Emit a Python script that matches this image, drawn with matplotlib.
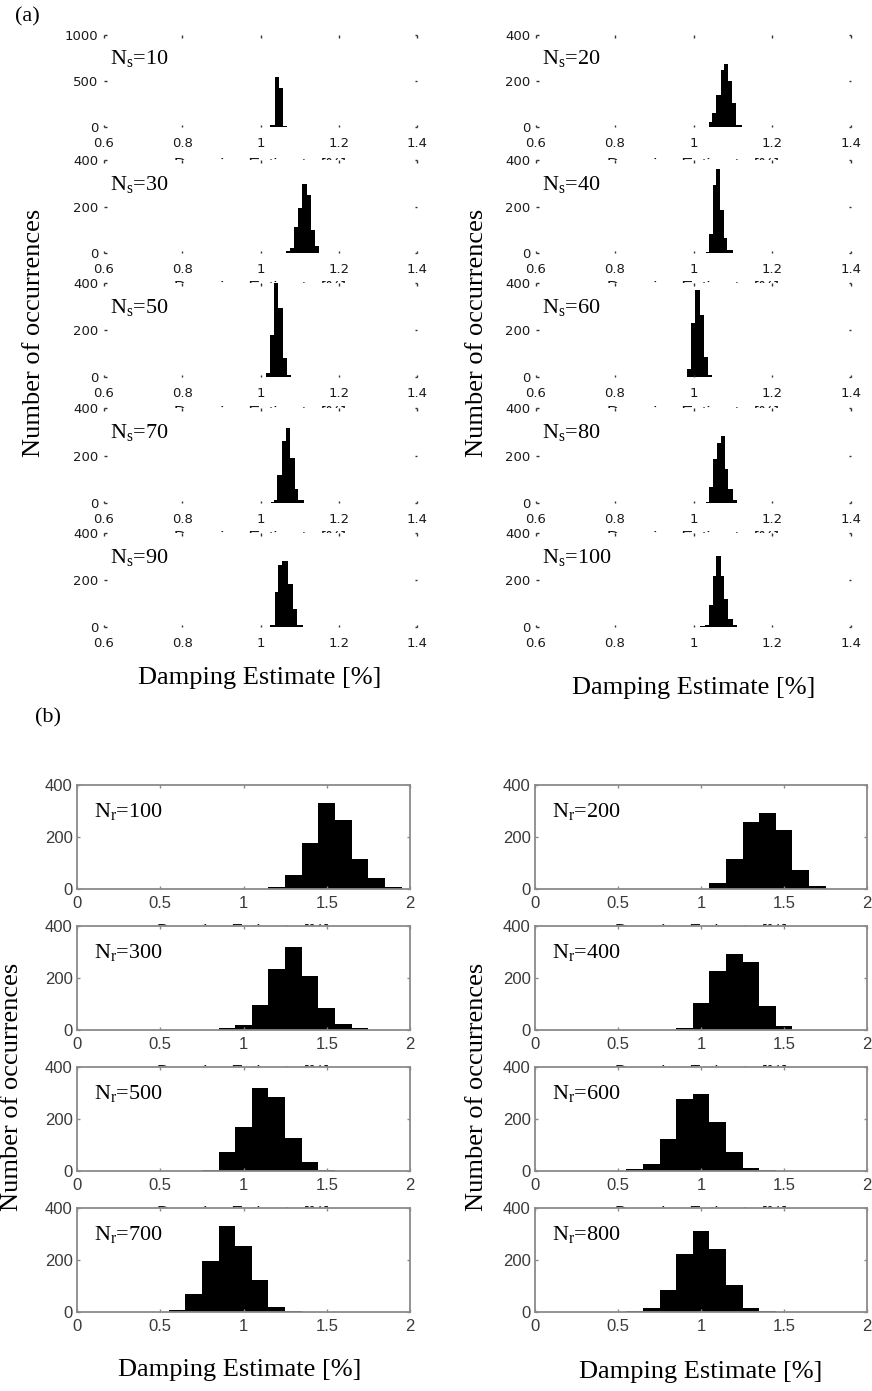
import numpy as np
import matplotlib
matplotlib.use("Agg")
import matplotlib.pyplot as plt

# ---------------- data: panel (a), N_s study ----------------
ns10_edges = [1.024, 1.038, 1.047, 1.058, 1.068]
ns10_counts = [25, 545, 420, 15]
ns20_edges = [1.039, 1.047, 1.058, 1.069, 1.077, 1.087, 1.098, 1.109, 1.124]
ns20_counts = [22, 60, 140, 250, 275, 200, 105, 10]
ns30_edges = [1.064, 1.075, 1.085, 1.097, 1.107, 1.118, 1.129, 1.139, 1.150]
ns30_counts = [7, 21, 111, 193, 295, 250, 100, 29]
ns40_edges = [1.031, 1.039, 1.050, 1.058, 1.067, 1.077, 1.086, 1.101]
ns40_counts = [3, 83, 293, 360, 183, 64, 11]
ns50_edges = [1.013, 1.024, 1.034, 1.044, 1.057, 1.067, 1.077]
ns50_counts = [17, 180, 400, 294, 80, 10]
ns60_edges = [0.984, 0.994, 1.005, 1.016, 1.026, 1.037, 1.047]
ns60_counts = [36, 229, 371, 264, 86, 7]
ns70_edges = [1.027, 1.034, 1.043, 1.056, 1.064, 1.075, 1.087, 1.097, 1.111]
ns70_counts = [4, 11, 119, 261, 314, 190, 61, 11]
ns80_edges = [1.031, 1.039, 1.050, 1.060, 1.070, 1.079, 1.087, 1.101, 1.111]
ns80_counts = [4, 66, 186, 251, 283, 143, 57, 11]
ns90_edges = [1.024, 1.038, 1.044, 1.055, 1.070, 1.084, 1.094, 1.109]
ns90_counts = [7, 150, 265, 282, 185, 75, 7]
ns100_edges = [1.016, 1.028, 1.039, 1.050, 1.058, 1.069, 1.077, 1.087, 1.101, 1.111]
ns100_counts = [3, 8, 95, 215, 300, 215, 119, 34, 10]

ns_values = [10, 20, 30, 40, 50, 60, 70, 80, 90, 100]
a_xticks = [0.6, 0.8, 1.0, 1.2, 1.4]
a_xticklabels = ["0.6", "0.8", "1", "1.2", "1.4"]
a_yticks_first = [0, 500, 1000]
a_yticks = [0, 200, 400]

# ---------------- data: panel (b), N_r study ----------------
nr100_edges = [1.15, 1.25, 1.35, 1.45, 1.55, 1.65, 1.75, 1.85, 1.95]
nr100_counts = [9, 54, 176, 330, 265, 114, 41, 9]
nr200_edges = [1.05, 1.15, 1.25, 1.35, 1.45, 1.55, 1.65, 1.75]
nr200_counts = [24, 114, 259, 291, 227, 73, 13]
nr300_edges = [0.85, 0.95, 1.05, 1.15, 1.25, 1.35, 1.45, 1.55, 1.65, 1.75]
nr300_counts = [6, 21, 96, 236, 319, 207, 86, 22, 6]
nr400_edges = [0.85, 0.95, 1.05, 1.15, 1.25, 1.35, 1.45, 1.55]
nr400_counts = [6, 102, 227, 291, 260, 93, 17]
nr500_edges = [0.75, 0.85, 0.95, 1.05, 1.15, 1.25, 1.35, 1.45, 1.55]
nr500_counts = [5, 73, 168, 319, 285, 126, 35, 4]
nr600_edges = [0.55, 0.65, 0.75, 0.85, 0.95, 1.05, 1.15, 1.25, 1.35, 1.45]
nr600_counts = [6, 26, 122, 277, 297, 190, 72, 10, 3]
nr700_edges = [0.55, 0.65, 0.75, 0.85, 0.95, 1.05, 1.15, 1.25, 1.35]
nr700_counts = [9, 71, 197, 331, 253, 122, 19, 3]
nr800_edges = [0.55, 0.65, 0.75, 0.85, 0.95, 1.05, 1.15, 1.25, 1.35, 1.45]
nr800_counts = [4, 15, 86, 222, 311, 244, 105, 17, 4]

nr_values = [100, 200, 300, 400, 500, 600, 700, 800]
b_xticks = [0, 0.5, 1, 1.5, 2]
b_xticklabels = ["0", "0.5", "1", "1.5", "2"]
b_yticks = [0, 200, 400]

XLABEL = "Damping Estimate [%]"
YLABEL = "Number of occurrences"

ns_hists = [(ns10_edges, ns10_counts), (ns20_edges, ns20_counts),
            (ns30_edges, ns30_counts), (ns40_edges, ns40_counts),
            (ns50_edges, ns50_counts), (ns60_edges, ns60_counts),
            (ns70_edges, ns70_counts), (ns80_edges, ns80_counts),
            (ns90_edges, ns90_counts), (ns100_edges, ns100_counts)]
nr_hists = [(nr100_edges, nr100_counts), (nr200_edges, nr200_counts),
            (nr300_edges, nr300_counts), (nr400_edges, nr400_counts),
            (nr500_edges, nr500_counts), (nr600_edges, nr600_counts),
            (nr700_edges, nr700_counts), (nr800_edges, nr800_counts)]

# ---------------- figure ----------------
plt.rcParams["mathtext.fontset"] = "custom"
plt.rcParams["mathtext.rm"] = "Liberation Serif"
plt.rcParams["mathtext.it"] = "Liberation Serif:italic"

W, H, DPI = 872, 1391, 100
fig = plt.figure(figsize=(W / DPI, H / DPI), dpi=DPI)
fig.patch.set_facecolor("white")

SERIF = "Liberation Serif"
SANS = "Liberation Sans"


def px_axes(x0, x1, top, bottom):
    return fig.add_axes([x0 / W, 1 - bottom / H, (x1 - x0) / W, (bottom - top) / H])


def ftext(x, y, s, family=SERIF, **kw):
    return fig.text(x / W, 1 - y / H, s, family=family, **kw)


def hidden_xlabel(xc, next_top, peek):
    # small per-subplot x label, almost entirely hidden behind the next subplot
    fs = 12.5
    cap = 0.716 * fs * DPI / 72.0
    ftext(xc, next_top - peek + cap, XLABEL, family=SANS, fontsize=fs,
          ha="center", va="baseline", color="#1a1a1a", zorder=-1)


# ----- (a) -----
a_cols = [(104, 417), (536, 851)]
a_rows = [(35, 127), (160, 253), (283, 377), (408, 503), (533, 627)]
for i, (edges, counts) in enumerate(ns_hists):
    r, c = divmod(i, 2)
    x0, x1 = a_cols[c]
    top, bot = a_rows[r]
    ax = px_axes(x0, x1, top, bot)
    ax.set_facecolor("white")
    ax.stairs(counts, edges, fill=True, color="black", linewidth=0)
    ax.set_xlim(0.6, 1.4)
    if i == 0:
        ax.set_ylim(0, 1000)
        ax.set_yticks(a_yticks_first)
    else:
        ax.set_ylim(0, 400)
        ax.set_yticks(a_yticks)
    ax.set_xticks(a_xticks)
    ax.set_xticklabels(a_xticklabels)
    for s in ax.spines.values():
        s.set_visible(False)
    ax.tick_params(direction="in", length=1.8, width=1.0, color="#333333",
                   top=True, right=True, labelsize=9.5, labelcolor="#1a1a1a")
    ax.tick_params(axis="x", pad=7.5)
    ax.tick_params(axis="y", pad=4)
    ax.text(0.02, 0.74, r"$\mathrm{N_s}$=%d" % ns_values[i], transform=ax.transAxes,
            fontsize=16, family=SERIF, ha="left", va="center")
    if r < len(a_rows) - 1:
        hidden_xlabel((x0 + x1) / 2, a_rows[r + 1][0], 2.0)

# ----- (b) -----
b_cols = [(77, 410), (535, 867)]
b_rows = [(785, 889), (926, 1030), (1067, 1171), (1208, 1312)]
for i, (edges, counts) in enumerate(nr_hists):
    r, c = divmod(i, 2)
    x0, x1 = b_cols[c]
    top, bot = b_rows[r]
    ax = px_axes(x0, x1, top, bot)
    ax.set_facecolor("white")
    ax.stairs(counts, edges, fill=True, color="black", linewidth=0)
    ax.set_xlim(0, 2)
    ax.set_ylim(0, 400)
    ax.set_xticks(b_xticks)
    ax.set_xticklabels(b_xticklabels)
    ax.set_yticks(b_yticks)
    for s in ax.spines.values():
        s.set_color("#8a8a8a")
        s.set_linewidth(1.3)
    ax.tick_params(direction="in", length=2.5, width=1.0, color="#8a8a8a",
                   top=True, right=True, labelsize=12, labelcolor="#3a3a3a")
    for lab in ax.get_xticklabels() + ax.get_yticklabels():
        lab.set_family(SANS)
    ax.tick_params(axis="x", pad=5)
    ax.tick_params(axis="y", pad=3)
    ax.text(0.05, 0.745, r"$\mathrm{N_r}$=%d" % nr_values[i], transform=ax.transAxes,
            fontsize=16, family=SERIF, ha="left", va="center")
    if r < len(b_rows) - 1:
        hidden_xlabel((x0 + x1) / 2, b_rows[r + 1][0], 2.2)

# ----- figure texts -----
ftext(27, 17, "(a)", fontsize=16, ha="center", va="center")
ftext(48, 718, "(b)", fontsize=16, ha="center", va="center")

ftext(260, 678, XLABEL, fontsize=19, ha="center", va="center")
ftext(694, 688, XLABEL, fontsize=19, ha="center", va="center")
ftext(240, 1370, XLABEL, fontsize=19, ha="center", va="center")
ftext(701, 1372, XLABEL, fontsize=19, ha="center", va="center")

ftext(34, 333, YLABEL, fontsize=19, rotation=90, ha="center", va="center")
ftext(477, 333, YLABEL, fontsize=19, rotation=90, ha="center", va="center")
ftext(12, 1087, YLABEL, fontsize=19, rotation=90, ha="center", va="center")
ftext(477, 1087, YLABEL, fontsize=19, rotation=90, ha="center", va="center")

fig.savefig("out.png", dpi=DPI)
